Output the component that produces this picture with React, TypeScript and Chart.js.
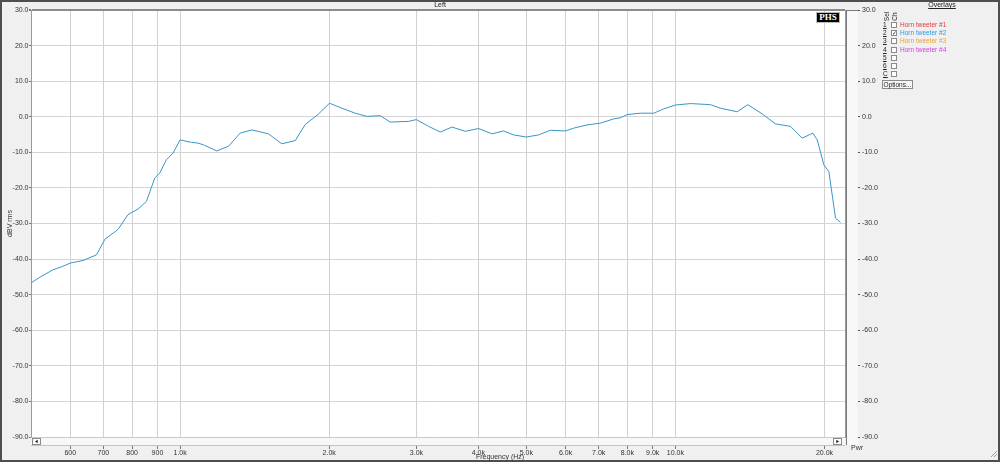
import React, { useEffect, useRef } from 'react';
import { Chart, registerables } from 'chart.js';

Chart.register(...registerables);

// Frequency response (Hz)
const frequencies = [
  500, 524, 554, 576, 601, 637, 678, 705, 749, 785,
  823, 855, 889, 910, 938, 968, 1000, 1054, 1087, 1115,
  1186, 1252, 1322, 1396, 1508, 1605, 1708, 1789, 1904, 2003,
  2122, 2257, 2384, 2535, 2657, 2893, 2998, 3175, 3352, 3539,
  3765, 4006, 4264, 4499, 4713, 5000, 5295, 5591, 5995, 6232,
  6631, 7056, 7505, 7742, 7986, 8497, 9042, 9471, 10000, 10723,
  11770, 12331, 13325, 13999, 14971, 15922, 17075, 18030, 18944, 19336,
  19938, 20410, 21054, 21544,
];

// Level in dBV rms, "Horn tweeter #2"
const levels = [
  -46.7, -44.9, -43.0, -42.2, -41.1, -40.4, -38.8, -34.4, -31.7, -27.5,
  -25.9, -23.8, -17.2, -15.8, -12.1, -10.2, -6.5, -7.2, -7.4, -7.9,
  -9.6, -8.3, -4.6, -3.7, -4.8, -7.6, -6.7, -2.2, 0.8, 3.8,
  2.4, 1.0, 0.1, 0.3, -1.5, -1.3, -0.8, -2.7, -4.3, -2.9,
  -4.1, -3.3, -4.8, -4.0, -5.1, -5.7, -5.1, -3.8, -4.0, -3.2,
  -2.3, -1.8, -0.6, -0.3, 0.6, 1.0, 1.0, 2.2, 3.3, 3.7,
  3.4, 2.4, 1.4, 3.4, 0.8, -2.0, -2.7, -6.0, -4.6, -6.5,
  -13.5, -15.4, -28.5, -29.7,
];

const xTickValues = [600, 700, 800, 900, 1000, 2000, 3000, 4000, 5000, 6000, 7000, 8000, 9000, 10000, 20000];
const yTickValues = [30, 20, 10, 0, -10, -20, -30, -40, -50, -60, -70, -80, -90];

const overlayRows = ['1', '2', '3', '4', '5', '6', 'C'];
const overlayNames = ['Horn tweeter #1', 'Horn tweeter #2', 'Horn tweeter #3', 'Horn tweeter #4', '', '', ''];
const overlayColors = ['#e0403c', '#3399dd', '#f0a030', '#cc44dd', '#000', '#000', '#000'];
const overlayChecked = [false, true, false, false, false, false, false];

const FONT = 'Liberation Sans, Arial, sans-serif';

function fmtFreq(v: number) {
  return v < 1000 ? String(v) : (v / 1000).toFixed(1) + 'k';
}

const decorPlugin = {
  id: 'decor',
  beforeDraw(chart: any) {
    const { ctx, chartArea } = chart;
    ctx.save();
    ctx.fillStyle = '#f0f0f0';
    ctx.fillRect(0, 0, chart.width, chart.height);
    ctx.fillStyle = '#ffffff';
    ctx.fillRect(chartArea.left, chartArea.top, chartArea.right - chartArea.left, chartArea.bottom - chartArea.top);
    ctx.restore();
  },
  afterDraw(chart: any) {
    const { ctx, chartArea } = chart;
    const l = chartArea.left;
    const r = chartArea.right;
    const b = chartArea.bottom;
    ctx.save();
    // scrollbar strip
    ctx.fillStyle = '#f7f7f7';
    ctx.fillRect(l, b + 0.5, r - l, 8);
    ctx.strokeStyle = '#c4c4c4';
    ctx.lineWidth = 1;
    ctx.beginPath();
    ctx.moveTo(l, b + 8.5);
    ctx.lineTo(r, b + 8.5);
    ctx.stroke();
    // scroll buttons
    const btn = (x: number, dir: number) => {
      ctx.fillStyle = '#ffffff';
      ctx.fillRect(x, b + 1, 8, 6);
      ctx.strokeStyle = '#8a8a8a';
      ctx.strokeRect(x + 0.5, b + 1.5, 8, 6);
      ctx.fillStyle = '#222';
      ctx.beginPath();
      const cx = x + 4.5;
      const cy = b + 4.5;
      ctx.moveTo(cx - 1.5 * dir, cy);
      ctx.lineTo(cx + 1.2 * dir, cy - 1.8);
      ctx.lineTo(cx + 1.2 * dir, cy + 1.8);
      ctx.closePath();
      ctx.fill();
    };
    btn(l + 1, 1);
    btn(r - 12, -1);
    // power meter strip
    ctx.fillStyle = '#f8f8f8';
    ctx.fillRect(r + 1, chartArea.top, 12, b + 8 - chartArea.top);
    ctx.strokeStyle = '#7a7a7a';
    ctx.beginPath();
    ctx.moveTo(r + 1.5, chartArea.top);
    ctx.lineTo(r + 1.5, b + 8);
    ctx.moveTo(r + 1.5, chartArea.top + 0.5);
    ctx.lineTo(r + 13, chartArea.top + 0.5);
    ctx.stroke();
    // resize grip
    ctx.strokeStyle = '#9a9a9a';
    for (let i = 0; i < 3; i++) {
      ctx.beginPath();
      ctx.moveTo(997 - i * 3, 457);
      ctx.lineTo(997, 457 - i * 3);
      ctx.stroke();
    }
    // outer frame
    ctx.strokeStyle = '#4e4e4e';
    ctx.lineWidth = 2;
    ctx.strokeRect(1, 1, chart.width - 2, chart.height - 2);
    ctx.restore();
  },
};

export default function App() {
  const ref = useRef<HTMLCanvasElement | null>(null);

  useEffect(() => {
    const prevMargin = document.body.style.margin;
    document.body.style.margin = '0';
    const tickFont = { family: FONT, size: 7 };
    const chart = new Chart(ref.current as HTMLCanvasElement, {
      type: 'line',
      data: {
        datasets: [
          {
            label: 'Horn tweeter #2',
            data: frequencies.map((f, i) => ({ x: f, y: levels[i] })),
            borderColor: '#3a96c8',
            borderWidth: 1,
            pointRadius: 0,
            tension: 0,
            fill: false,
            yAxisID: 'y',
            xAxisID: 'x',
          },
        ],
      },
      options: {
        responsive: false,
        animation: false,
        devicePixelRatio: 1,
        layout: { padding: { left: 0, right: 120, top: 0, bottom: 0 } },
        plugins: {
          legend: { display: false },
          tooltip: { enabled: false },
          title: {
            display: true,
            text: 'Left',
            color: '#222',
            font: { family: FONT, size: 7, weight: 'normal' },
            padding: { top: 1, bottom: 0.6 },
          },
        },
        scales: {
          x: {
            type: 'logarithmic',
            position: 'bottom',
            min: 500,
            max: 22000,
            afterBuildTicks: (s: any) => {
              s.ticks = xTickValues.map((v) => ({ value: v }));
            },
            afterFit: (s: any) => {
              s.height = 25;
            },
            ticks: {
              autoSkip: false,
              maxRotation: 0,
              padding: 0,
              color: '#333',
              font: tickFont,
              callback: (v: any) => fmtFreq(Number(v)),
            },
            grid: { color: '#d2d2d2', tickColor: '#777', tickLength: 12 },
            border: { color: '#9a9a9a' },
          },
          y: {
            position: 'left',
            min: -90,
            max: 30,
            afterBuildTicks: (s: any) => {
              s.ticks = yTickValues.map((v) => ({ value: v }));
            },
            afterFit: (s: any) => {
              s.width = 31;
            },
            ticks: {
              autoSkip: false,
              padding: 0.5,
              color: '#333',
              font: tickFont,
              callback: (v: any) => Number(v).toFixed(1),
            },
            grid: {
              color: (c: any) => (c.tick && c.tick.value === 30 ? '#8c8c8c' : '#d4d4d4'),
              lineWidth: (c: any) => (c.tick && c.tick.value === 30 ? 2 : 1),
              tickColor: '#777',
              tickLength: 2,
            },
            border: { color: '#9a9a9a' },
            title: {
              display: true,
              text: 'dBV rms',
              color: '#333',
              font: { family: FONT, size: 7 },
              padding: { top: 6, bottom: 0 },
            },
          },
          y2: {
            position: 'right',
            min: -90,
            max: 30,
            afterBuildTicks: (s: any) => {
              s.ticks = yTickValues.map((v) => ({ value: v }));
            },
            afterFit: (s: any) => {
              s.width = 35;
            },
            ticks: {
              autoSkip: false,
              padding: 2,
              color: '#333',
              font: tickFont,
              callback: (v: any) => Number(v).toFixed(1),
            },
            grid: { drawOnChartArea: false, tickColor: '#555', tickLength: 15 },
            border: { color: '#9a9a9a' },
          },
        },
      } as any,
      plugins: [decorPlugin],
    });
    return () => {
      chart.destroy();
      document.body.style.margin = prevMargin;
    };
  }, []);

  const rowTop = (i: number) => 21 + i * 8.2;

  return (
    <div style={{ position: 'relative', width: 1000, height: 462, overflow: 'hidden', fontFamily: FONT }}>
      <canvas ref={ref} width={1000} height={462} style={{ display: 'block', width: 1000, height: 462 }} />
      {/* x axis title */}
      <div style={{ position: 'absolute', left: 450, top: 453, width: 100, textAlign: 'center', fontSize: 7, lineHeight: '8px', color: '#333' }}>
        Frequency (Hz)
      </div>
      {/* PHS badge */}
      <div
        style={{
          position: 'absolute', left: 816, top: 12, width: 24, height: 11, background: '#000',
          border: '1px solid #bbb', boxSizing: 'border-box', color: '#fff',
          fontFamily: 'Liberation Serif, serif', fontWeight: 'bold', fontSize: 9, lineHeight: '9px',
          textAlign: 'center',
        }}
      >
        PHS
      </div>
      {/* Overlays panel */}
      <div style={{ position: 'absolute', left: 922, top: 1, width: 40, textAlign: 'center', fontSize: 7, color: '#222', textDecoration: 'underline' }}>
        Overlays
      </div>
      <div style={{ position: 'absolute', left: 880, top: 13, width: 12, fontSize: 6.5, color: '#222', transform: 'rotate(-90deg)', transformOrigin: 'center', textAlign: 'center' }}>
        Sel
      </div>
      <div style={{ position: 'absolute', left: 889, top: 13, width: 10, fontSize: 6.5, color: '#222', transform: 'rotate(-90deg)', transformOrigin: 'center', textAlign: 'center' }}>
        Ch
      </div>
      {overlayRows.map((r, i) => (
        <React.Fragment key={r + i}>
          <div style={{ position: 'absolute', left: 883, top: rowTop(i), fontSize: 6.5, lineHeight: '8px', color: '#222', textDecoration: 'underline' }}>{r}</div>
          <div
            style={{
              position: 'absolute', left: 891, top: rowTop(i) + 1, width: 6, height: 6, boxSizing: 'border-box',
              border: '1px solid #8a8a8a', background: '#fff', fontSize: 6, lineHeight: '5px', color: '#111', textAlign: 'center',
            }}
          >
            {overlayChecked[i] ? '✓' : ''}
          </div>
          {overlayNames[i] ? (
            <div style={{ position: 'absolute', left: 900, top: rowTop(i), fontSize: 6.5, lineHeight: '8px', color: overlayColors[i], whiteSpace: 'nowrap' }}>
              {overlayNames[i]}
            </div>
          ) : null}
        </React.Fragment>
      ))}
      <div
        style={{
          position: 'absolute', left: 882, top: 80, width: 31, height: 9, boxSizing: 'border-box', border: '1px solid #8a8a8a',
          background: '#f6f6f6', fontSize: 6.5, lineHeight: '7px', textAlign: 'center', color: '#222',
        }}
      >
        Options...
      </div>
      <div style={{ position: 'absolute', left: 851, top: 444, fontSize: 7, color: '#333' }}>Pwr</div>
    </div>
  );
}
